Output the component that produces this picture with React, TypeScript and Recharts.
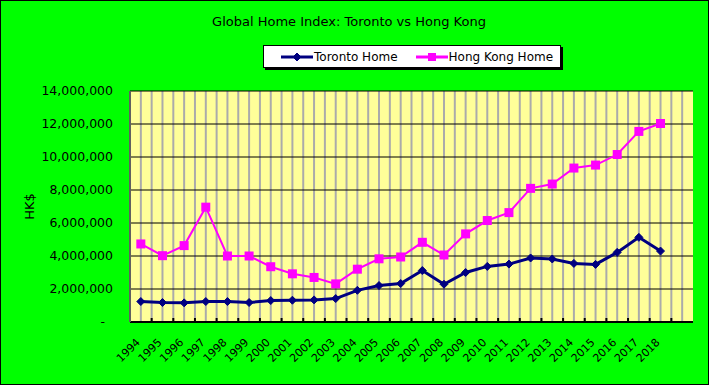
import React from "react"
import {
  CartesianGrid,
  Legend,
  Line,
  LineChart,
  XAxis,
  YAxis,
} from "recharts"

const years = [
  "1994", "1995", "1996", "1997", "1998", "1999", "2000", "2001", "2002",
  "2003", "2004", "2005", "2006", "2007", "2008", "2009", "2010", "2011",
  "2012", "2013", "2014", "2015", "2016", "2017", "2018", "",
]

const torontoHome = [
  1240000, 1180000, 1160000, 1240000, 1240000, 1180000, 1300000, 1320000,
  1340000, 1420000, 1920000, 2210000, 2330000, 3120000, 2290000, 3000000,
  3370000, 3510000, 3880000, 3820000, 3550000, 3490000, 4220000, 5130000,
  4300000, null,
]

const hongKongHome = [
  4730000, 4020000, 4630000, 6960000, 4000000, 4000000, 3350000, 2920000,
  2700000, 2310000, 3200000, 3830000, 3940000, 4830000, 4060000, 5340000,
  6150000, 6630000, 8100000, 8360000, 9330000, 9510000, 10150000, 11550000,
  12030000, null,
]

const yTicks = [0, 2000000, 4000000, 6000000, 8000000, 10000000, 12000000, 14000000]

const data = years.map((year, i) => ({
  year,
  toronto: torontoHome[i],
  hongKong: hongKongHome[i],
}))

const W = 709
const H = 385
const PLOT_LEFT = 130
const PLOT_RIGHT = 16
const PLOT_TOP = 91
const PLOT_BOTTOM = 63
const PLOT_W = W - PLOT_LEFT - PLOT_RIGHT
const STEP = PLOT_W / years.length
const FONT = "'DejaVu Sans', Verdana, sans-serif"

const NAVY = "#000080"
const MAGENTA = "#FF00FF"

function Diamond({ cx, cy, r = 4, color = NAVY }: any) {
  if (cx == null || cy == null) return null
  return (
    <path
      d={`M${cx},${cy - r} L${cx + r},${cy} L${cx},${cy + r} L${cx - r},${cy} Z`}
      fill={color}
      stroke={color}
    />
  )
}

function Square({ cx, cy, s = 9, color = MAGENTA }: any) {
  if (cx == null || cy == null) return null
  return <rect x={cx - s / 2} y={cy - s / 2} width={s} height={s} fill={color} />
}

function XTick({ x, y, payload, index }: any) {
  const tx = x
  const ty = y + 21
  return (
    <g>
      {index < years.length - 1 && (
        <line x1={x + STEP / 2} y1={y} x2={x + STEP / 2} y2={y - 4} stroke="#000" strokeWidth={2} />
      )}
      {payload.value && (
        <text
          x={tx}
          y={ty}
          textAnchor="end"
          fontSize={11}
          fontFamily={FONT}
          fill="#000"
          transform={`rotate(-45, ${tx}, ${ty})`}
        >
          {payload.value}
        </text>
      )}
    </g>
  )
}

function YTick({ x, y, payload }: any) {
  const v = payload.value as number
  return (
    <text
      x={v === 0 ? x - 8 : x}
      y={y}
      dy={4}
      textAnchor="end"
      fontSize={12.5}
      fontFamily={FONT}
      fill="#000"
    >
      {v === 0 ? "-" : v.toLocaleString("en-US")}
    </text>
  )
}

function LegendBox() {
  return (
    <div
      style={{
        width: 296,
        height: 21,
        background: "#fff",
        border: "1px solid #000",
        boxShadow: "2px 2px 0 #000",
        display: "flex",
        alignItems: "center",
        fontFamily: FONT,
        fontSize: 12,
        color: "#000",
      }}
    >
      <svg width={32} height={10} style={{ marginLeft: 17 }}>
        <line x1={0} y1={5} x2={32} y2={5} stroke={NAVY} strokeWidth={3} />
        <Diamond cx={16} cy={5} r={4} />
      </svg>
      <span style={{ marginLeft: 1 }}>Toronto Home</span>
      <svg width={32} height={10} style={{ marginLeft: 18 }}>
        <line x1={0} y1={5} x2={32} y2={5} stroke={MAGENTA} strokeWidth={3} />
        <Square cx={16} cy={5} s={8} />
      </svg>
      <span style={{ marginLeft: 1 }}>Hong Kong Home</span>
    </div>
  )
}

export default function App() {
  return (
    <div
      style={{
        position: "relative",
        width: W,
        height: H,
        background: "#00FF00",
        border: "1px solid #000",
        boxSizing: "border-box",
        overflow: "hidden",
      }}
    >
      <style>{"body{margin:0}"}</style>
      <div
        style={{
          position: "absolute",
          top: 13,
          left: 0,
          width: 696,
          textAlign: "center",
          fontFamily: FONT,
          fontSize: 13,
          color: "#000",
        }}
      >
        Global Home Index: Toronto vs Hong Kong
      </div>
      <div style={{ position: "absolute", top: -1, left: -1 }}>
        <LineChart
          width={W}
          height={H}
          data={data}
          margin={{ top: PLOT_TOP, right: PLOT_RIGHT, left: 0, bottom: 0 }}
        >
          <CartesianGrid
            horizontal={false}
            fill="#FFFF99"
            stroke="#ABABAB"
            strokeWidth={2}
            verticalCoordinatesGenerator={({ offset }: any) => {
              const left = offset?.left ?? PLOT_LEFT
              return Array.from({ length: years.length * 2 - 1 }, (_, i) => left + ((i + 1) * STEP) / 2)
            }}
          />
          <CartesianGrid vertical={false} stroke="#000" strokeWidth={1} />
          <XAxis
            dataKey="year"
            scale="point"
            interval={0}
            padding={{ left: STEP / 2, right: STEP / 2 }}
            height={PLOT_BOTTOM}
            tickLine={false}
            tickSize={0}
            tickMargin={0}
            axisLine={{ stroke: "#000", strokeWidth: 2 }}
            tick={<XTick />}
          />
          <XAxis
            xAxisId="top"
            dataKey="year"
            orientation="top"
            height={0}
            tick={false}
            tickLine={false}
            axisLine={{ stroke: "#808080", strokeWidth: 3 }}
          />
          <YAxis
            width={PLOT_LEFT}
            domain={[0, 14000000]}
            ticks={yTicks}
            interval={0}
            tickLine={false}
            tickSize={0}
            tickMargin={17}
            axisLine={{ stroke: "#606060", strokeWidth: 2 }}
            tick={<YTick />}
            label={({ viewBox }: any) => (
              <text
                x={viewBox.x + 34}
                y={viewBox.y + viewBox.height / 2}
                textAnchor="middle"
                fontSize={13}
                fontFamily={FONT}
                fill="#000"
                transform={`rotate(-90, ${viewBox.x + 34}, ${viewBox.y + viewBox.height / 2})`}
              >
                HK$
              </text>
            )}
          />
          <YAxis
            yAxisId="right"
            orientation="right"
            width={0}
            domain={[0, 1]}
            tick={false}
            tickLine={false}
            axisLine={{ stroke: "#808080", strokeWidth: 3 }}
          />
          <Legend
            layout="horizontal"
            verticalAlign="middle"
            align="center"
            wrapperStyle={{ top: 45, left: 263, width: 300, height: 24 }}
            content={() => <LegendBox />}
          />
          <Line
            dataKey="hongKong"
            stroke={MAGENTA}
            strokeWidth={2}
            isAnimationActive={false}
            dot={(p: any) => <Square key={`hk-${p.index}`} cx={p.cx} cy={p.cy} />}
            activeDot={false}
          />
          <Line
            dataKey="toronto"
            stroke={NAVY}
            strokeWidth={3}
            isAnimationActive={false}
            dot={(p: any) => <Diamond key={`to-${p.index}`} cx={p.cx} cy={p.cy} />}
            activeDot={false}
          />
        </LineChart>
      </div>
    </div>
  )
}
